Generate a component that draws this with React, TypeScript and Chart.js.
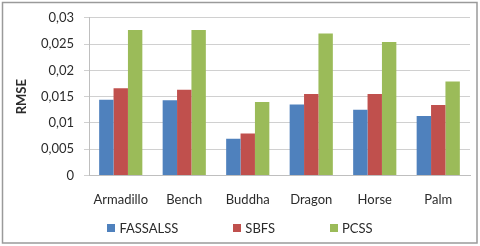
import React, { useEffect, useRef } from "react";
import { Chart, registerables } from "chart.js";

Chart.register(...registerables);

const categories = ["Armadillo", "Bench", "Buddha", "Dragon", "Horse", "Palm"];
const seriesNames = ["FASSALSS", "SBFS", "PCSS"];
const fassalss = [0.0144, 0.0143, 0.007, 0.0135, 0.0125, 0.0113];
const sbfs = [0.0166, 0.0163, 0.008, 0.0155, 0.0155, 0.0134];
const pcss = [0.0277, 0.0277, 0.014, 0.027, 0.0254, 0.0179];
const seriesColors = ["#4F81BD", "#C0504D", "#9BBB59"];
const yTickLabels = ["0", "0,005", "0,01", "0,015", "0,02", "0,025", "0,03"];
const yAxisTitle = "RMSE";

const FONT = "Lato";
const TEXT = "#2b2b2b";

const framePlugin = {
  id: "frame",
  beforeDraw(chart: any) {
    const { ctx, width, height } = chart;
    ctx.save();
    ctx.fillStyle = "#ffffff";
    ctx.fillRect(0, 0, width, height);
    ctx.restore();
  },
  afterDraw(chart: any) {
    const { ctx } = chart;
    ctx.save();
    ctx.strokeStyle = "#9a9a9a";
    ctx.lineWidth = 1.5;
    ctx.strokeRect(2.5, 2.5, 474.5, 240.5);
    ctx.restore();
  },
};

const legendPlugin = {
  id: "customLegend",
  afterDraw(chart: any) {
    const { ctx } = chart;
    const ds = chart.data.datasets;
    ctx.save();
    ctx.font = `13px ${FONT}`;
    ctx.textBaseline = "middle";
    ctx.textAlign = "left";
    const box = 8;
    const gapText = 4;
    const gapItem = 55;
    const widths = ds.map((d: any) => box + gapText + ctx.measureText(d.label).width);
    const total = widths.reduce((a: number, b: number) => a + b, 0) + gapItem * (ds.length - 1);
    let x = chart.width / 2 - total / 2;
    const y = 228;
    ds.forEach((d: any, i: number) => {
      ctx.fillStyle = d.backgroundColor;
      ctx.fillRect(Math.round(x), y - 4, box, box);
      ctx.fillStyle = TEXT;
      ctx.fillText(d.label, x + box + gapText, y + 0.5);
      x += widths[i] + gapItem;
    });
    ctx.restore();
  },
};

export default function App() {
  const ref = useRef<HTMLCanvasElement>(null);

  useEffect(() => {
    if (!ref.current) return;
    const seriesData = [fassalss, sbfs, pcss];
    const chart = new Chart(ref.current, {
      type: "bar",
      data: {
        labels: categories,
        datasets: seriesNames.map((name, i) => ({
          label: name,
          data: seriesData[i],
          backgroundColor: seriesColors[i],
          borderWidth: 0,
          categoryPercentage: 0.68,
          barPercentage: 1,
        })),
      },
      options: {
        responsive: false,
        animation: false,
        layout: { padding: { top: 16, right: 10, left: 0, bottom: 0 } },
        plugins: {
          legend: { display: false },
          tooltip: { enabled: false },
        },
        scales: {
          x: {
            grid: { display: false, drawTicks: false },
            border: { display: true, color: "#bfbfbf", width: 1 },
            ticks: {
              color: TEXT,
              font: { family: FONT, size: 13 },
              padding: 17,
              maxRotation: 0,
            },
            afterFit: (s: any) => {
              s.height = 70.5;
            },
          },
          y: {
            min: 0,
            max: 0.03,
            grid: { color: "#d0d0d0", tickLength: 5, drawTicks: true },
            border: { display: true, color: "#bfbfbf", width: 1 },
            ticks: {
              stepSize: 0.005,
              color: TEXT,
              font: { family: FONT, size: 13 },
              padding: 10,
              callback: (_v: any, i: number) => yTickLabels[i],
            },
            title: {
              display: true,
              text: yAxisTitle,
              color: TEXT,
              font: { family: FONT, size: 13, weight: "bold" },
              padding: { top: 14, bottom: 0 },
            },
            afterFit: (s: any) => {
              s.width = 89;
            },
          },
        },
      },
      plugins: [framePlugin, legendPlugin],
    });
    return () => chart.destroy();
  }, []);

  return (
    <div style={{ position: "absolute", left: 0, top: 0, width: 480, height: 246 }}>
      <canvas ref={ref} width={480} height={246} style={{ display: "block" }} />
    </div>
  );
}
